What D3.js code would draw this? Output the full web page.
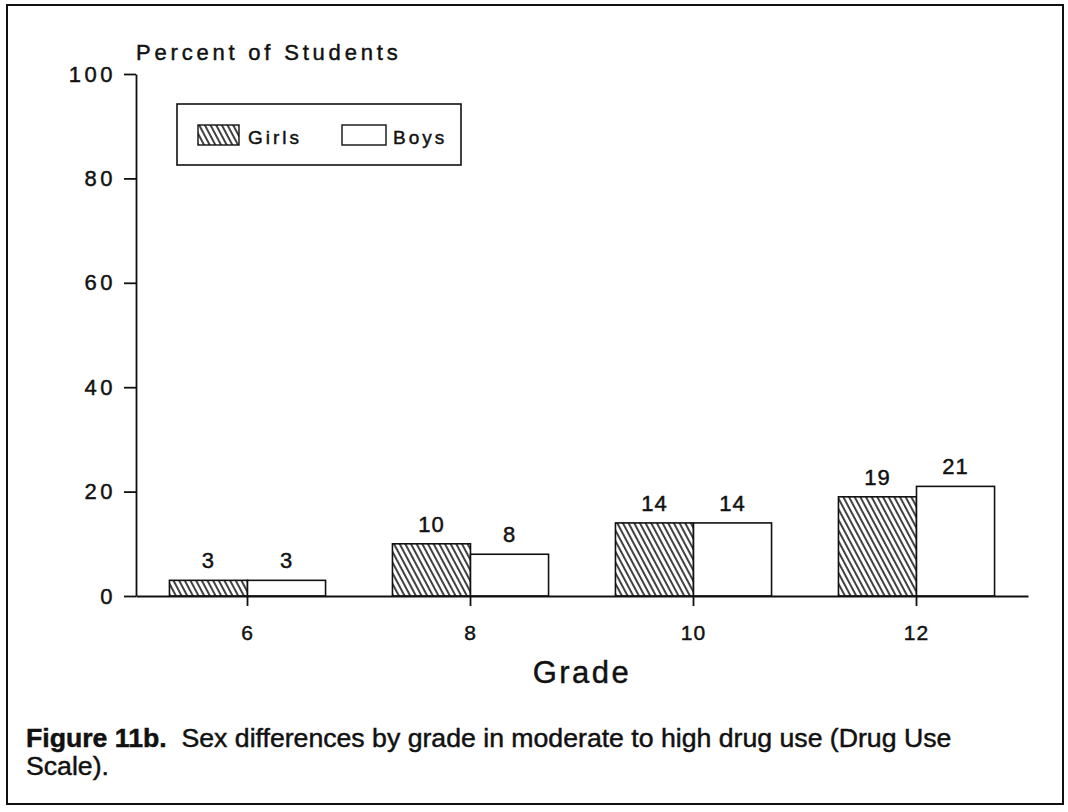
<!DOCTYPE html>
<html>
<head>
<meta charset="utf-8">
<script src="https://cdn.jsdelivr.net/npm/d3@7"></script>
<style>
  body { margin: 0; background: #fff; }
  svg text { font-family: Arial, "Liberation Sans", Helvetica, sans-serif; fill: #111; stroke: #111; stroke-width: 0.45px; }
</style>
</head>
<body>
<svg id="chart" width="1068" height="812"></svg>
<script>
var grades = ["6", "8", "10", "12"];
var seriesNames = ["Girls", "Boys"];
var girlsValues = [3, 10, 14, 19];
var boysValues = [3, 8, 14, 21];
var yTickValues = [0, 20, 40, 60, 80, 100];

var svg = d3.select('#chart');

// hatch for the girls bars
var defs = svg.append('defs');
defs.append('pattern')
    .attr('id', 'hatch')
    .attr('patternUnits', 'userSpaceOnUse')
    .attr('width', 5)
    .attr('height', 5)
    .attr('patternTransform', 'rotate(-28)')
    .append('line')
    .attr('x1', 1).attr('y1', 0)
    .attr('x2', 1).attr('y2', 5)
    .attr('stroke', '#111')
    .attr('stroke-width', 1.6);

// outer frame
svg.append('rect')
    .attr('x', 7).attr('y', 5)
    .attr('width', 1056).attr('height', 799)
    .attr('fill', 'none')
    .attr('stroke', '#111')
    .attr('stroke-width', 2);

var x0 = d3.scaleBand().domain(grades).range([136, 1028]).paddingInner(0.3).paddingOuter(0.15);
var x1 = d3.scaleBand().domain(seriesNames).range([0, x0.bandwidth()]).padding(0);
var y = d3.scaleLinear().domain([0, 100]).range([596, 74]);
var fillFor = { Girls: 'url(#hatch)', Boys: '#fff' };

var rows = grades.map(function (g, i) {
    return { grade: g, values: [
        { name: 'Girls', value: girlsValues[i] },
        { name: 'Boys', value: boysValues[i] }
    ] };
});

// y axis
var yAxis = svg.append('g')
    .attr('transform', 'translate(136,0)')
    .call(d3.axisLeft(y).tickValues(yTickValues).tickSize(12).tickSizeOuter(0).tickPadding(8));
yAxis.selectAll('text')
    .attr('font-size', '22px')
    .attr('letter-spacing', '3.5px')
    .attr('font-family', 'Arial, "Liberation Sans", sans-serif')
    .attr('fill', '#111');

// bars
var groups = svg.append('g').selectAll('g')
    .data(rows)
    .enter()
    .append('g')
    .attr('transform', function (d) { return 'translate(' + x0(d.grade) + ',0)'; });

groups.selectAll('rect')
    .data(function (d) { return d.values; })
    .enter()
    .append('rect')
    .attr('x', function (d) { return x1(d.name); })
    .attr('y', function (d) { return y(d.value); })
    .attr('width', x1.bandwidth())
    .attr('height', function (d) { return y(0) - y(d.value); })
    .attr('fill', function (d) { return fillFor[d.name]; })
    .attr('stroke', '#111')
    .attr('stroke-width', 1.6);

groups.selectAll('text.val')
    .data(function (d) { return d.values; })
    .enter()
    .append('text')
    .attr('class', 'val')
    .attr('x', function (d) { return x1(d.name) + x1.bandwidth() / 2; })
    .attr('y', function (d) { return y(d.value) - 12; })
    .attr('text-anchor', 'middle')
    .attr('font-size', '22px')
    .attr('letter-spacing', '1px')
    .text(function (d) { return d.value; });

// x axis
var xAxis = svg.append('g')
    .attr('transform', 'translate(0,596)')
    .call(d3.axisBottom(x0).tickSize(10).tickSizeOuter(0).tickPadding(19));
xAxis.selectAll('text')
    .attr('font-size', '21px')
    .attr('letter-spacing', '1px')
    .attr('font-family', 'Arial, "Liberation Sans", sans-serif')
    .attr('fill', '#111');

svg.selectAll('.domain, .tick line')
    .attr('stroke', '#111')
    .attr('stroke-width', 1.8);

// titles
svg.append('text')
    .attr('x', 136)
    .attr('y', 60)
    .attr('font-size', '22px')
    .attr('letter-spacing', '3.8px')
    .text('Percent of Students');

svg.append('text')
    .attr('x', 582)
    .attr('y', 683)
    .attr('text-anchor', 'middle')
    .attr('font-size', '31px')
    .attr('letter-spacing', '2.5px')
    .text('Grade');

// legend
var legend = svg.append('g').attr('transform', 'translate(177,104)');
legend.append('rect')
    .attr('width', 284).attr('height', 61)
    .attr('fill', '#fff')
    .attr('stroke', '#111')
    .attr('stroke-width', 1.6);

var legendItems = legend.selectAll('.legend-item')
    .data(seriesNames)
    .enter()
    .append('g')
    .attr('class', 'legend-item')
    .attr('transform', function (d, i) { return 'translate(' + (i === 0 ? 21 : 165) + ',21)'; });

legendItems.append('rect')
    .attr('width', function (d, i) { return i === 0 ? 41 : 44; })
    .attr('height', 20)
    .attr('fill', function (d) { return fillFor[d]; })
    .attr('stroke', '#111')
    .attr('stroke-width', 1.4);

legendItems.append('text')
    .attr('x', function (d, i) { return i === 0 ? 50 : 51; })
    .attr('y', 19)
    .attr('font-size', '19px')
    .attr('letter-spacing', '3px')
    .text(function (d) { return d; });

// caption, squeezed to the narrow face of the original
var captionLines = [
    [{ t: 'Figure 11b.', b: true }, { t: '\u00a0 Sex differences by grade in moderate to high drug use (Drug Use', b: false }],
    [{ t: 'Scale).', b: false }]
];
var captionWidth = 926;
var squeeze = 1;
captionLines.forEach(function (parts, i) {
    var line = svg.append('text')
        .attr('y', 747 + i * 28)
        .attr('font-size', '25px');
    parts.forEach(function (p) {
        line.append('tspan')
            .attr('font-weight', p.b ? 'bold' : 'normal')
            .text(p.t);
    });
    if (i === 0) squeeze = captionWidth / line.node().getComputedTextLength();
    line.attr('transform', 'translate(26,0) scale(' + squeeze + ',1)');
});
</script>
</body>
</html>
